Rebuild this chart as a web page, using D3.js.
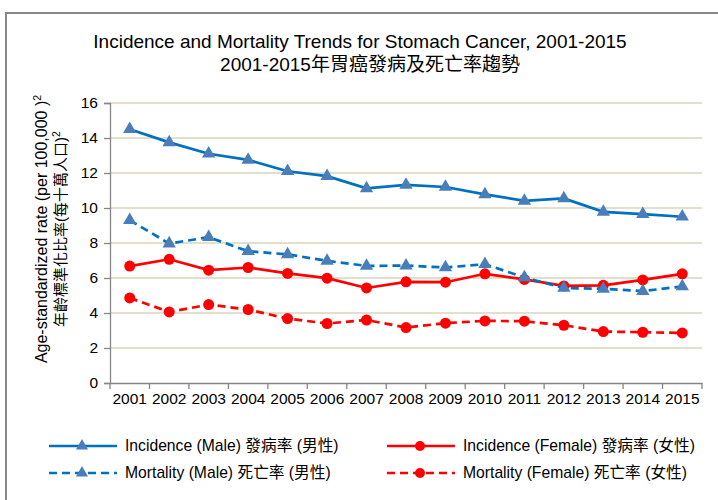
<!DOCTYPE html>
<html>
<head>
<meta charset="utf-8">
<script src="https://cdn.jsdelivr.net/npm/d3@7"></script>
<style>
  body { margin: 0; background: #fff; }
  svg { font-family: 'Liberation Sans', Arial, 'Noto Sans CJK TC', sans-serif; }
</style>
</head>
<body>
<div id="chart"></div>
<script>
const years = ['2001', '2002', '2003', '2004', '2005', '2006', '2007', '2008', '2009', '2010', '2011', '2012', '2013', '2014', '2015']
const incidenceMale = [14.5, 13.75, 13.1, 12.75, 12.1, 11.82, 11.12, 11.32, 11.2, 10.78, 10.41, 10.55, 9.78, 9.65, 9.5]
const mortalityMale = [9.3, 7.97, 8.33, 7.53, 7.35, 6.98, 6.69, 6.71, 6.6, 6.79, 6.03, 5.43, 5.38, 5.25, 5.52]
const incidenceFemale = [6.68, 7.07, 6.45, 6.6, 6.26, 5.99, 5.43, 5.78, 5.76, 6.24, 5.92, 5.55, 5.58, 5.89, 6.24]
const mortalityFemale = [4.86, 4.06, 4.48, 4.2, 3.68, 3.4, 3.6, 3.17, 3.42, 3.55, 3.53, 3.3, 2.94, 2.9, 2.86]
const yTicks = [0, 2, 4, 6, 8, 10, 12, 14, 16]

const series = [
  { name: 'Incidence (Male) 發病率 (男性)', values: incidenceMale, color: '#0070c0', marker: 'triangle', dashed: false },
  { name: 'Incidence (Female) 發病率 (女性)', values: incidenceFemale, color: '#ff0000', marker: 'circle', dashed: false },
  { name: 'Mortality (Male) 死亡率 (男性)', values: mortalityMale, color: '#0070c0', marker: 'triangle', dashed: true },
  { name: 'Mortality (Female) 死亡率 (女性)', values: mortalityFemale, color: '#ff0000', marker: 'circle', dashed: true }
]

const width = 718
const height = 500
const plot = { left: 110, right: 702, top: 103, bottom: 383 }

const svg = d3
  .select('#chart')
  .append('svg')
  .attr('width', width)
  .attr('height', height)

// outer frame
svg
  .append('rect')
  .attr('x', 6)
  .attr('y', 13)
  .attr('width', 800)
  .attr('height', 600)
  .attr('fill', 'none')
  .attr('stroke', '#888')
  .attr('stroke-width', 2)

const xPositionScale = d3
  .scaleBand()
  .domain(years)
  .range([plot.left, plot.right])

const yPositionScale = d3
  .scaleLinear()
  .domain([0, 16])
  .range([plot.bottom, plot.top])

// title
const title = svg
  .append('text')
  .attr('text-anchor', 'middle')
  .attr('font-size', 19)
  .attr('fill', '#000')
title.append('tspan').attr('x', 360).attr('y', 48).text('Incidence and Mortality Trends for Stomach Cancer, 2001-2015')
title.append('tspan').attr('x', 370).attr('y', 71).text('2001-2015年胃癌發病及死亡率趨勢')

// gridlines
svg
  .append('g')
  .selectAll('line')
  .data(yTicks.filter(d => d > 0))
  .enter()
  .append('line')
  .attr('x1', plot.left)
  .attr('x2', plot.right)
  .attr('y1', d => yPositionScale(d))
  .attr('y2', d => yPositionScale(d))
  .attr('stroke', '#d9d4bd')
  .attr('stroke-width', 1.5)

// y axis
const yAxis = d3
  .axisLeft(yPositionScale)
  .tickValues(yTicks)
  .tickSize(6)
  .tickPadding(6)
  .tickFormat(d3.format('d'))

const yg = svg
  .append('g')
  .attr('transform', `translate(${plot.left},0)`)
  .call(yAxis)
yg.selectAll('.domain, line').attr('stroke', '#868686').attr('stroke-width', 1.3)
yg.selectAll('text').attr('font-size', 15.5).attr('fill', '#000').attr('font-family', null)

// x axis
const xAxis = d3.axisBottom(xPositionScale).tickSize(0).tickPadding(10)
const xg = svg
  .append('g')
  .attr('transform', `translate(0,${plot.bottom})`)
  .call(xAxis)
xg.select('.domain').attr('stroke', '#868686').attr('stroke-width', 1.3)
xg.selectAll('text').attr('font-size', 15.5).attr('fill', '#000').attr('font-family', null)

const boundaries = years.map(d => xPositionScale(d)).concat([plot.right])
xg.selectAll('.xtick')
  .data(boundaries)
  .enter()
  .append('line')
  .attr('class', 'xtick')
  .attr('x1', d => d)
  .attr('x2', d => d)
  .attr('y1', 0)
  .attr('y2', 6)
  .attr('stroke', '#868686')
  .attr('stroke-width', 1.3)

// y axis title
const yTitle = svg
  .append('text')
  .attr('text-anchor', 'middle')
  .attr('font-size', 16)
  .attr('transform', 'translate(0,229) rotate(-90)')
const l1 = yTitle.append('tspan').attr('x', 0).attr('y', 47)
l1.append('tspan').text('Age-standardized rate (per 100,000 )')
l1.append('tspan').attr('dy', -6).attr('font-size', 10.5).text('2')
const l2 = yTitle.append('tspan').attr('x', 0).attr('y', 66).attr('font-size', 15)
l2.append('tspan').text('年齡標準化比率(每十萬人口)')
l2.append('tspan').attr('dy', -6).attr('font-size', 10.5).text('2')

function drawMarker(g, type, x, y, size) {
  if (type === 'triangle') {
    g.append('path')
      .attr('d', d3.symbol().type(d3.symbolTriangle).size(size * 7)())
      .attr('transform', `translate(${x},${y})`)
      .attr('fill', '#4a7ebb')
  } else {
    g.append('circle')
      .attr('cx', x)
      .attr('cy', y)
      .attr('r', size / 2)
      .attr('fill', '#ff0000')
  }
}

const line = d3
  .line()
  .x((d, i) => xPositionScale(years[i]) + xPositionScale.bandwidth() / 2)
  .y(d => yPositionScale(d))

// draw in order so male incidence stays on top
const drawOrder = [3, 1, 2, 0]
drawOrder.forEach(k => {
  const s = series[k]
  const g = svg.append('g')
  g.append('path')
    .datum(s.values)
    .attr('d', line)
    .attr('fill', 'none')
    .attr('stroke', s.color)
    .attr('stroke-width', 2.7)
    .attr('stroke-dasharray', s.dashed ? '8,5' : null)
  s.values.forEach((v, i) => {
    drawMarker(g, s.marker, xPositionScale(years[i]) + xPositionScale.bandwidth() / 2, yPositionScale(v), 11)
  })
})

// legend
const legendPos = [
  { x: 49, y: 446 },
  { x: 387, y: 446 },
  { x: 49, y: 473 },
  { x: 387, y: 473 }
]
series.forEach((s, k) => {
  const p = legendPos[k]
  const g = svg.append('g')
  g.append('line')
    .attr('x1', p.x)
    .attr('x2', p.x + 68)
    .attr('y1', p.y)
    .attr('y2', p.y)
    .attr('stroke', s.color)
    .attr('stroke-width', 2.5)
    .attr('stroke-dasharray', s.dashed ? '8,5' : null)
  drawMarker(g, s.marker, p.x + 33, p.y, s.marker === 'triangle' ? 9 : 10)
  g.append('text')
    .attr('x', p.x + 76)
    .attr('y', p.y + 5)
    .attr('font-size', 15.7)
    .text(s.name)
})
</script>
</body>
</html>
